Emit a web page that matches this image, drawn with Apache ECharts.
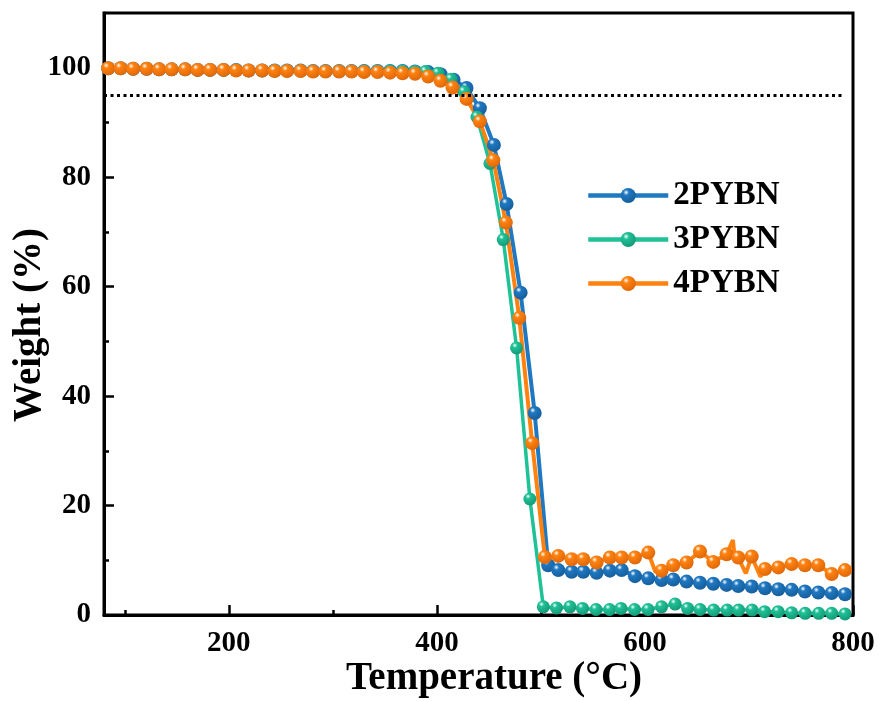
<!DOCTYPE html>
<html>
<head>
<meta charset="utf-8">
<script src="https://cdn.jsdelivr.net/npm/echarts@6/dist/echarts.min.js"></script>
<style>
  body{margin:0;background:#fff;}
  #chart{width:879px;height:701px;}
</style>
</head>
<body>
<div id="chart"></div>
<script>
// TGA curves, temperature (°C) and weight (%) of every marker
var temp2 = [84, 96, 108, 121, 133, 145, 158, 170, 182, 195, 207, 219, 232, 244, 256, 269, 281, 293, 306, 318, 330, 343, 355, 367, 379,
  391.6, 403.5, 416, 428.5, 441.3, 454.8, 467, 480.5, 494, 507,
  516.7, 529.5, 540.7, 553.5, 566.3, 577.6, 590.4, 603.2, 616, 627.2, 640, 652.9, 665.7, 678.5, 689.7, 702.6, 715.4, 728.2, 741, 753.8, 766.6, 779.5, 792.3]
var weight2 = [99.9, 99.9, 99.8, 99.8, 99.7, 99.7, 99.7, 99.6, 99.6, 99.6, 99.6, 99.5, 99.5, 99.5, 99.5, 99.5, 99.4, 99.4, 99.4, 99.4, 99.4, 99.4, 99.4, 99.4, 99.3,
  99.2, 98.8, 97.8, 96.3, 92.6, 85.9, 75.1, 58.9, 36.9, 9.1,
  8.2, 7.9, 7.9, 7.7, 8.1, 8.2, 7.1, 6.7, 6.4, 6.5, 6.1, 5.9, 5.7, 5.5, 5.3, 5.2, 4.9, 4.7, 4.6, 4.3, 4.1, 4.0, 3.8]

var temp3 = [84, 96, 108, 121, 133, 145, 158, 170, 182, 195, 207, 219, 232, 244, 256, 269, 281, 293, 306, 318, 330, 343, 355, 367, 379,
  389, 401, 413.5, 426, 438.5, 451, 463.8, 476.6, 489.4,
  502.3, 515, 527.9, 540, 553, 566, 577, 590, 603, 616, 629, 641, 653, 666, 679, 690, 703, 715, 728, 741, 754, 767, 779.5, 792.3]
var weight3 = [99.9, 99.9, 99.8, 99.8, 99.7, 99.7, 99.7, 99.6, 99.6, 99.6, 99.6, 99.5, 99.5, 99.5, 99.5, 99.5, 99.4, 99.4, 99.4, 99.4, 99.4, 99.4, 99.4, 99.4, 99.3,
  99.3, 99.0, 97.9, 95.6, 91.0, 82.5, 68.6, 48.8, 21.2,
  1.5, 1.3, 1.5, 1.2, 1.0, 1.0, 1.2, 1.0, 1.0, 1.5, 2.0, 1.2, 1.0, 0.9, 0.9, 0.9, 0.9, 0.6, 0.6, 0.4, 0.3, 0.3, 0.3, 0.2]

var temp4 = [84, 96, 108, 121, 133, 145, 158, 170, 182, 195, 207, 219, 232, 244, 256, 269, 281, 293, 306, 318, 330, 343, 355, 367, 379,
  391.6, 403.5, 415, 428.5, 441.3, 454.2, 466.3, 479.2, 491.6, 503.8,
  516.7, 529.5, 540.7, 553.5, 566.3, 577.6, 590.4, 603.2, 616, 627.2, 640, 652.9, 665.7, 678.5, 689.7, 702.6, 715.4, 728.2, 741, 753.8, 766.6, 779.5, 792.3]
var weight4 = [99.9, 99.9, 99.8, 99.8, 99.7, 99.7, 99.7, 99.6, 99.6, 99.6, 99.5, 99.5, 99.5, 99.4, 99.4, 99.4, 99.3, 99.3, 99.3, 99.3, 99.2, 99.2, 99.1, 99.0, 98.9,
  98.4, 97.6, 96.4, 94.3, 90.2, 83.1, 71.7, 54.3, 31.4, 10.6,
  10.8, 10.2, 10.2, 9.6, 10.5, 10.5, 10.5, 11.4, 8.1, 9.1, 9.6, 11.6, 9.7, 11.1, 10.5, 10.7, 8.4, 8.7, 9.3, 9.1, 9.1, 7.5, 8.2]
// noisy points of 4PYBN between markers (no marker drawn)
var noiseTemp4 = [610, 684.6, 686.5, 697, 711]
var noiseWeight4 = [7.9, 13.7, 10.0, 7.6, 7.0]

var names = ['2PYBN', '3PYBN', '4PYBN']
var xLabels = [200, 400, 600, 800]
var xMinor = [100, 300, 500, 700]
var yLabels = [0, 20, 40, 60, 80, 100]
var yMinor = [10, 30, 50, 70, 90]
var threshold = 95
var thresholdFrom = 80
var thresholdTo = 792

var font = '"Liberation Serif", "Times New Roman", serif'

function pairs(t, w, nt, nw) {
  var d = t.map(function (x, i) { return { value: [x, w[i]] } })
  if (nt) {
    nt.forEach(function (x, i) { d.push({ value: [x, nw[i]], symbol: 'none' }) })
  }
  d.sort(function (a, b) { return a.value[0] - b.value[0] })
  return d
}

function ball(c, dark) {
  return new echarts.graphic.RadialGradient(0.36, 0.3, 0.68, [
    { offset: 0, color: '#ffffff' },
    { offset: 0.28, color: c },
    { offset: 1, color: dark }
  ])
}

function makeSeries(name, data, c, dark, size, width) {
  return {
    name: name,
    type: 'line',
    data: data,
    symbol: 'circle',
    symbolSize: size,
    lineStyle: { color: c, width: width },
    itemStyle: { color: ball(c, dark) },
    emphasis: { disabled: true }
  }
}

var myChart = echarts.init(document.getElementById('chart'))

var s2 = makeSeries(names[0], pairs(temp2, weight2), '#1f78c2', '#17609e', 14, 4)
s2.markLine = {
  silent: true,
  symbol: 'none',
  label: { show: false },
  lineStyle: { color: '#000', width: 3, type: [3, 3.5] },
  data: [[{ coord: [thresholdFrom, threshold] }, { coord: [thresholdTo, threshold] }]]
}
var s3 = makeSeries(names[1], pairs(temp3, weight3), '#1fc197', '#159c79', 13, 3.5)
var s4 = makeSeries(names[2], pairs(temp4, weight4, noiseTemp4, noiseWeight4), '#ff8210', '#e0690a', 14, 4)

var option = {
  animation: false,
  grid: {
    left: 104, top: 13, width: 749, height: 602,
    show: true, borderColor: '#000', borderWidth: 3
  },
  legend: {
    orient: 'vertical',
    left: 586, top: 179,
    padding: 0,
    itemWidth: 80, itemHeight: 19, itemGap: 11,
    lineStyle: { width: 4.5 },
    textStyle: { fontFamily: font, fontWeight: 'bold', fontSize: 33, lineHeight: 33, color: '#000' },
    data: names
  },
  xAxis: [
    {
      type: 'value', min: 80, max: 800,
      axisLine: { lineStyle: { color: '#000', width: 3 } },
      axisTick: { inside: true, length: 10, lineStyle: { width: 2.5, color: '#000' }, customValues: xLabels },
      axisLabel: { customValues: xLabels, margin: 14, color: '#000', fontFamily: font, fontWeight: 'bold', fontSize: 29 },
      splitLine: { show: false }
    },
    {
      type: 'value', min: 80, max: 800, position: 'bottom',
      axisLine: { show: false },
      axisTick: { inside: true, length: 5, lineStyle: { width: 2.5, color: '#000' }, customValues: xMinor },
      axisLabel: { show: false },
      splitLine: { show: false }
    }
  ],
  yAxis: [
    {
      type: 'value', min: 0, max: 110,
      axisLine: { lineStyle: { color: '#000', width: 3 } },
      axisTick: { inside: true, length: 10, lineStyle: { width: 2.5, color: '#000' }, customValues: yLabels },
      axisLabel: { customValues: yLabels, margin: 13, color: '#000', fontFamily: font, fontWeight: 'bold', fontSize: 29 },
      splitLine: { show: false }
    },
    {
      type: 'value', min: 0, max: 110, position: 'left',
      axisLine: { show: false },
      axisTick: { inside: true, length: 5, lineStyle: { width: 2.5, color: '#000' }, customValues: yMinor },
      axisLabel: { show: false },
      splitLine: { show: false }
    }
  ],
  graphic: [
    {
      type: 'text', x: 494, y: 679,
      style: { text: 'Temperature (°C)', font: 'bold 39px ' + font, fill: '#000',
        textAlign: 'center', textVerticalAlign: 'middle', align: 'center', verticalAlign: 'middle' }
    },
    {
      type: 'text', x: 30, y: 325, rotation: Math.PI / 2,
      style: { text: 'Weight (%)', font: 'bold 39px ' + font, fill: '#000',
        textAlign: 'center', textVerticalAlign: 'middle', align: 'center', verticalAlign: 'middle' }
    }
  ],
  series: [s2, s3, s4]
}

myChart.setOption(option)
</script>
</body>
</html>
